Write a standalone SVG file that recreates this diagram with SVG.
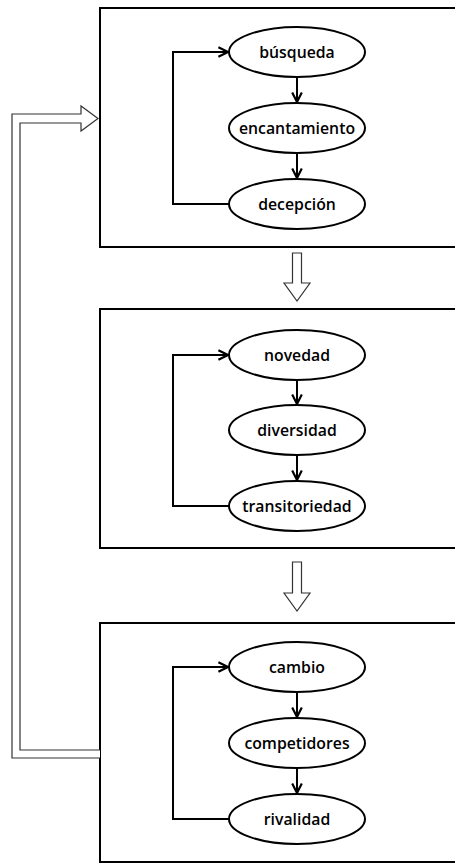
<svg xmlns="http://www.w3.org/2000/svg" width="455" height="864" viewBox="0 0 455 864">
  <style>
    .box { fill: #fff; stroke: #000; stroke-width: 2; }
    .node ellipse { fill: #fff; stroke: #000; stroke-width: 2; }
    .node text { font-family: "Open Sans", "Noto Sans", "DejaVu Sans", sans-serif; font-size: 15.8px; font-weight: 600; fill: #000; text-anchor: middle; dominant-baseline: central; }
    .edge { fill: none; stroke: #000; stroke-width: 2; }
    .flow { fill: #fff; stroke: #333; stroke-width: 1.2; stroke-linejoin: miter; }
  </style>
  <defs>
    <marker id="arrow" viewBox="0 0 10 10" refX="9" refY="5" markerWidth="6" markerHeight="6" orient="auto" markerUnits="strokeWidth">
      <path d="M1,1 L9,5 L1,9" fill="none" stroke="#000" stroke-width="1.8"/>
    </marker>
  </defs>
  <rect width="455" height="864" fill="#fff"/>

  <!-- stage containers -->
  <g id="stage1"><rect class="box" x="100" y="8" width="360" height="239"/></g>
  <g id="stage2"><rect class="box" x="100" y="309" width="360" height="239"/></g>
  <g id="stage3"><rect class="box" x="100" y="623" width="360" height="239"/></g>

  <!-- hollow flow arrows between stages and the return loop -->
  <g id="flows">
    <polygon class="flow" points="292.5,253 301.5,253 301.5,283 310,283 297,301 284,283 292.5,283"/>
    <polygon class="flow" points="292.5,562 301.5,562 301.5,593 310,593 297,611 284,593 292.5,593"/>
    <path class="flow" d="M100,758 L12,758 L12,114 L81,114 L81,106 L98,118.5 L81,131 L81,123 L20,123 L20,750 L100,750"/>
  </g>

  <!-- connectors -->
  <g id="connectors">
    <line class="edge" x1="297" y1="77" x2="297" y2="102" marker-end="url(#arrow)"/>
    <line class="edge" x1="297" y1="153" x2="297" y2="178" marker-end="url(#arrow)"/>
    <path class="edge" d="M229,204 L173,204 L173,52 L228,52" marker-end="url(#arrow)"/>

    <line class="edge" x1="297" y1="380" x2="297" y2="404" marker-end="url(#arrow)"/>
    <line class="edge" x1="297" y1="455" x2="297" y2="480" marker-end="url(#arrow)"/>
    <path class="edge" d="M229,506 L173,506 L173,355 L228,355" marker-end="url(#arrow)"/>

    <line class="edge" x1="297" y1="692" x2="297" y2="717" marker-end="url(#arrow)"/>
    <line class="edge" x1="297" y1="768" x2="297" y2="793" marker-end="url(#arrow)"/>
    <path class="edge" d="M229,819 L173,819 L173,667 L228,667" marker-end="url(#arrow)"/>
  </g>

  <!-- nodes -->
  <g id="busqueda" class="node"><ellipse cx="297" cy="52" rx="68" ry="25"/><text x="297" y="52">búsqueda</text></g>
  <g id="encantamiento" class="node"><ellipse cx="297" cy="128" rx="68" ry="25"/><text x="297" y="128">encantamiento</text></g>
  <g id="decepcion" class="node"><ellipse cx="297" cy="204" rx="68" ry="25"/><text x="297" y="204">decepción</text></g>

  <g id="novedad" class="node"><ellipse cx="297" cy="355" rx="68" ry="25"/><text x="297" y="355">novedad</text></g>
  <g id="diversidad" class="node"><ellipse cx="297" cy="430" rx="68" ry="25"/><text x="297" y="430">diversidad</text></g>
  <g id="transitoriedad" class="node"><ellipse cx="297" cy="506" rx="68" ry="25"/><text x="297" y="506">transitoriedad</text></g>

  <g id="cambio" class="node"><ellipse cx="297" cy="667" rx="68" ry="25"/><text x="297" y="667">cambio</text></g>
  <g id="competidores" class="node"><ellipse cx="297" cy="743" rx="68" ry="25"/><text x="297" y="743">competidores</text></g>
  <g id="rivalidad" class="node"><ellipse cx="297" cy="819" rx="68" ry="25"/><text x="297" y="819">rivalidad</text></g>
</svg>
